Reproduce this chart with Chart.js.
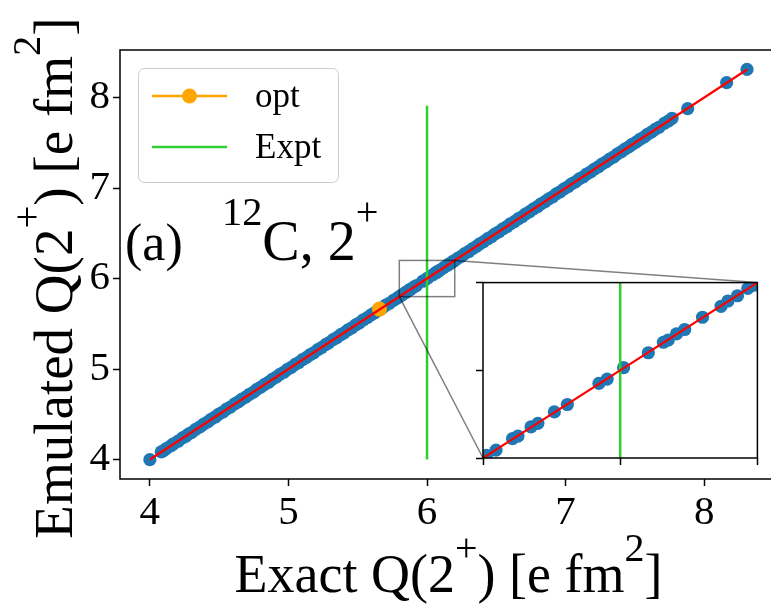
<!DOCTYPE html>
<html>
<head>
<meta charset="utf-8">
<title>Emulated vs exact Q(2+)</title>
<script src="https://cdn.jsdelivr.net/npm/chart.js@4.4.1/dist/chart.umd.min.js"></script>
<style>
  html, body { margin: 0; padding: 0; background: #fff; overflow: hidden; }
  #wrap { position: relative; width: 771px; height: 604px; overflow: hidden; }
  #main { position: absolute; left: 0; top: 0; width: 800px; height: 604px; }
  #inset { position: absolute; left: 470px; top: 276px; width: 294px; height: 196px; }
</style>
</head>
<body>
<div id="wrap">
  <canvas id="main" width="800" height="604"></canvas>
  <canvas id="inset" width="294" height="196"></canvas>
</div>
<script>
// exact vs emulated quadrupole moment samples [e fm^2]
const exactQ = [
  4.000, 4.082, 4.097, 4.118, 4.152, 4.171, 4.204, 4.236, 4.259, 4.281,
  4.303, 4.331, 4.362, 4.389, 4.418, 4.441, 4.472, 4.498, 4.527, 4.553,
  4.581, 4.612, 4.638, 4.662, 4.691, 4.719, 4.748, 4.772, 4.801, 4.829,
  4.857, 4.883, 4.912, 4.938, 4.967, 4.993, 5.021, 5.049, 5.074, 5.102,
  5.131, 5.158, 5.183, 5.212, 5.239, 5.268, 5.291, 5.322, 5.349, 5.377,
  5.402, 5.431, 5.458, 5.487, 5.512, 5.541, 5.569, 5.597, 5.622, 5.649,
  5.676, 5.702, 5.729, 5.758, 5.785, 5.805, 5.819, 5.843, 5.851, 5.870,
  5.880, 5.904, 5.923, 5.969, 5.981, 6.005, 6.041, 6.063, 6.070, 6.082,
  6.094, 6.120, 6.147, 6.157, 6.171, 6.186, 6.195, 6.221, 6.248, 6.272,
  6.301, 6.329, 6.357, 6.381, 6.409, 6.438, 6.466, 6.491, 6.519, 6.548,
  6.577, 6.602, 6.631, 6.659, 6.687, 6.712, 6.741, 6.769, 6.798, 6.823,
  6.852, 6.879, 6.907, 6.933, 6.961, 6.989, 7.018, 7.043, 7.071, 7.099,
  7.127, 7.152, 7.181, 7.208, 7.237, 7.262, 7.291, 7.318, 7.346, 7.372,
  7.401, 7.428, 7.456, 7.481, 7.509, 7.537, 7.566, 7.591, 7.619, 7.646,
  7.674, 7.712, 7.741, 7.768, 7.881, 8.162, 8.309
]
const emulatedQ = [
  3.998, 4.085, 4.095, 4.121, 4.150, 4.174, 4.202, 4.239, 4.257, 4.283,
  4.300, 4.334, 4.360, 4.391, 4.416, 4.444, 4.470, 4.501, 4.525, 4.556,
  4.579, 4.614, 4.636, 4.665, 4.689, 4.721, 4.745, 4.775, 4.799, 4.831,
  4.854, 4.886, 4.910, 4.941, 4.964, 4.996, 5.019, 5.052, 5.071, 5.105,
  5.129, 5.160, 5.180, 5.215, 5.237, 5.270, 5.289, 5.325, 5.346, 5.379,
  5.400, 5.434, 5.456, 5.489, 5.510, 5.544, 5.567, 5.599, 5.620, 5.652,
  5.674, 5.705, 5.727, 5.760, 5.783, 5.806, 5.818, 5.844, 5.850, 5.871,
  5.879, 5.905, 5.922, 5.970, 5.980, 6.006, 6.040, 6.064, 6.069, 6.083,
  6.093, 6.121, 6.146, 6.158, 6.170, 6.187, 6.194, 6.223, 6.246, 6.275,
  6.299, 6.331, 6.355, 6.384, 6.407, 6.440, 6.463, 6.494, 6.517, 6.550,
  6.575, 6.605, 6.629, 6.661, 6.684, 6.715, 6.739, 6.771, 6.796, 6.826,
  6.850, 6.881, 6.904, 6.936, 6.959, 6.991, 7.016, 7.046, 7.069, 7.101,
  7.124, 7.155, 7.179, 7.210, 7.235, 7.265, 7.289, 7.320, 7.343, 7.375,
  7.399, 7.430, 7.454, 7.484, 7.507, 7.539, 7.563, 7.594, 7.617, 7.648,
  7.672, 7.715, 7.739, 7.771, 7.878, 8.165, 8.311
]
const optExact = [5.657]
const optEmulated = [5.662]
const exptQ = [6.0, 6.0]
const exptSpan = [4.0, 7.91]
const parityEnds = [4.0, 8.31]
const mainTicks = [4, 5, 6, 7, 8]
const insetTicks = [5.8, 6.0, 6.2]
const MAIN_LIMITS = [3.7845, 8.5255]
const ZOOM_LIMITS = [5.8, 6.2]

const COLORS = {
  blue: '#1f77b4',
  red: '#ff0000',
  green: '#32cd32',
  orange: '#ffa500',
  frame: '#000000',
  indicator: 'rgba(0, 0, 0, 0.5)'
}
const SERIF = "'Liberation Serif', 'Times New Roman', serif"
const INSET_POS = { left: 470, top: 276 }

const toPoints = (xs, ys) => xs.map((x, i) => ({ x, y: ys[i] }))

/**
 * Datasets shared by the main axes and the zoomed inset.
 */
function buildDatasets (withOpt) {
  const sets = [
    {
      label: 'parity',
      data: toPoints(parityEnds, parityEnds),
      showLine: true,
      borderColor: COLORS.red,
      borderWidth: 2.2,
      pointRadius: 0,
      order: 0
    },
    {
      label: 'Expt',
      data: toPoints(exptQ, exptSpan),
      showLine: true,
      borderColor: COLORS.green,
      borderWidth: 2.5,
      pointRadius: 0,
      order: 1
    },
    {
      label: 'samples',
      data: toPoints(exactQ, emulatedQ),
      showLine: false,
      pointRadius: 6.6,
      pointBorderWidth: 0,
      pointBackgroundColor: COLORS.blue,
      order: 3
    }
  ]
  if (withOpt) {
    sets.push({
      label: 'opt',
      data: toPoints(optExact, optEmulated),
      showLine: false,
      pointRadius: 7.5,
      pointBorderWidth: 0,
      pointBackgroundColor: COLORS.orange,
      order: 2
    })
  } else {
    sets.forEach(ds => { ds.clip = 0 })
  }
  return sets
}

function axisConfig (limits, ticks, showLabels, fitSize, isX) {
  return {
    type: 'linear',
    min: limits[0],
    max: limits[1],
    afterBuildTicks: (scale) => { scale.ticks = ticks.map(v => ({ value: v })) },
    afterFit: (scale) => {
      if (isX) scale.height = fitSize
      else scale.width = fitSize
    },
    border: { display: false },
    grid: { drawOnChartArea: false, drawTicks: true, tickLength: 7, tickWidth: 1.5, color: COLORS.frame },
    ticks: {
      display: showLabels,
      maxRotation: 0,
      color: '#000',
      padding: 3,
      font: { family: SERIF, size: 41 }
    }
  }
}

// draws a run of text pieces; a piece flagged true is a superscript
function drawRich (ctx, parts, x, y, size, align, rise, supScale) {
  const fontOf = sup => `${sup ? size * supScale : size}px ${SERIF}`
  const widths = parts.map(([t, sup]) => { ctx.font = fontOf(sup); return ctx.measureText(t).width })
  const total = widths.reduce((a, b) => a + b, 0)
  let cx = align === 'center' ? x - total / 2 : x
  ctx.textAlign = 'left'
  ctx.textBaseline = 'alphabetic'
  parts.forEach(([t, sup], i) => {
    ctx.font = fontOf(sup)
    ctx.fillText(t, cx, sup ? y - size * rise : y)
    cx += widths[i]
  })
}

function drawFrame (ctx, area) {
  ctx.save()
  ctx.strokeStyle = COLORS.frame
  ctx.lineWidth = 1.5
  ctx.strokeRect(area.left, area.top, area.right - area.left, area.bottom - area.top)
  ctx.restore()
}

const insetDecor = {
  id: 'insetDecor',
  beforeDatasetsDraw (chart) {
    const a = chart.chartArea
    chart.ctx.save()
    chart.ctx.fillStyle = '#fff'
    chart.ctx.fillRect(a.left, a.top, a.right - a.left, a.bottom - a.top)
    chart.ctx.restore()
  },
  afterDatasetsDraw (chart) {
    drawFrame(chart.ctx, chart.chartArea)
  }
}

const insetChart = new Chart(document.getElementById('inset'), {
  type: 'scatter',
  data: { datasets: buildDatasets(false) },
  options: {
    responsive: false,
    devicePixelRatio: 1,
    animation: false,
    events: [],
    layout: { padding: { top: 3, right: 4, left: 0, bottom: 0 } },
    plugins: { legend: { display: false }, tooltip: { enabled: false } },
    scales: {
      x: axisConfig(ZOOM_LIMITS, insetTicks, false, 14, true),
      y: axisConfig(ZOOM_LIMITS, insetTicks, false, 13, false)
    }
  },
  plugins: [insetDecor]
})

function drawIndicator (chart) {
  const ctx = chart.ctx
  const xs = chart.scales.x
  const ys = chart.scales.y
  const x0 = xs.getPixelForValue(ZOOM_LIMITS[0])
  const x1 = xs.getPixelForValue(ZOOM_LIMITS[1])
  const y0 = ys.getPixelForValue(ZOOM_LIMITS[0])
  const y1 = ys.getPixelForValue(ZOOM_LIMITS[1])
  const ia = insetChart.chartArea
  ctx.save()
  ctx.strokeStyle = COLORS.indicator
  ctx.lineWidth = 1.5
  ctx.strokeRect(x0, y1, x1 - x0, y0 - y1)
  ctx.beginPath()
  ctx.moveTo(x0, y0)
  ctx.lineTo(INSET_POS.left + ia.left, INSET_POS.top + ia.bottom)
  ctx.moveTo(x1, y1)
  ctx.lineTo(INSET_POS.left + ia.right, INSET_POS.top + ia.top)
  ctx.stroke()
  ctx.restore()
}

function drawLegend (ctx) {
  const box = { x: 138.5, y: 68.5, w: 200, h: 114, r: 6 }
  ctx.save()
  ctx.beginPath()
  ctx.roundRect(box.x, box.y, box.w, box.h, box.r)
  ctx.fillStyle = 'rgba(255, 255, 255, 0.8)'
  ctx.fill()
  ctx.strokeStyle = '#cccccc'
  ctx.lineWidth = 1
  ctx.stroke()

  const rows = [
    { text: 'opt', color: COLORS.orange, y: 96, marker: true },
    { text: 'Expt', color: COLORS.green, y: 147, marker: false }
  ]
  rows.forEach(row => {
    ctx.strokeStyle = row.color
    ctx.lineWidth = 2.5
    ctx.beginPath()
    ctx.moveTo(152, row.y)
    ctx.lineTo(227, row.y)
    ctx.stroke()
    if (row.marker) {
      ctx.fillStyle = row.color
      ctx.beginPath()
      ctx.arc(189.5, row.y, 7.5, 0, Math.PI * 2)
      ctx.fill()
    }
    ctx.fillStyle = '#000'
    ctx.font = `35px ${SERIF}`
    ctx.textAlign = 'left'
    ctx.textBaseline = 'middle'
    ctx.fillText(row.text, 255, row.y + 2)
  })
  ctx.restore()
}

const mainDecor = {
  id: 'mainDecor',
  afterDatasetsDraw (chart) {
    drawFrame(chart.ctx, chart.chartArea)
    drawIndicator(chart)
    drawLegend(chart.ctx)
  },
  afterDraw (chart) {
    const ctx = chart.ctx
    const a = chart.chartArea
    ctx.save()
    ctx.fillStyle = '#000'
    // axis titles
    drawRich(ctx, [['Exact Q(2', false], ['+', true], [') [e fm', false], ['2', true], [']', false]],
      (a.left + a.right) / 2, 592, 54, 'center', 0.58, 0.74)
    ctx.save()
    ctx.translate(72, 278)
    ctx.rotate(-Math.PI / 2)
    drawRich(ctx, [['Emulated Q(2', false], ['+', true], [') [e fm', false], ['2', true], [']', false]],
      0, 0, 55, 'center', 0.58, 0.74)
    ctx.restore()
    // panel annotation
    drawRich(ctx, [['(a)', false]], 125, 260, 52, 'left', 0, 0.7)
    drawRich(ctx, [['12', true], ['C, 2', false], ['+', true]], 222, 260, 56, 'left', 0.62, 0.72)
    ctx.restore()
  }
}

const mainChart = new Chart(document.getElementById('main'), {
  type: 'scatter',
  data: { datasets: buildDatasets(true) },
  options: {
    responsive: false,
    devicePixelRatio: 1,
    animation: false,
    events: [],
    layout: { padding: { top: 50, right: 23, left: 0, bottom: 0 } },
    plugins: { legend: { display: false }, tooltip: { enabled: false } },
    scales: {
      x: axisConfig(MAIN_LIMITS, mainTicks, true, 125, true),
      y: axisConfig(MAIN_LIMITS, mainTicks, true, 120, false)
    }
  },
  plugins: [mainDecor]
})
</script>
</body>
</html>
